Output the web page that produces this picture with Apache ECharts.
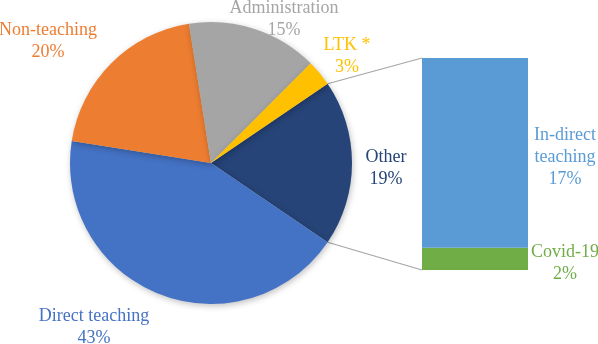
<!DOCTYPE html>
<html>
<head>
<meta charset="utf-8">
<script src="https://cdn.jsdelivr.net/npm/echarts@6/dist/echarts.min.js"></script>
<style>
  html, body { margin: 0; padding: 0; background: #fff; }
  #main { width: 598px; height: 344px; }
</style>
</head>
<body>
<div id="main"></div>
<script>
// pie part (Other first, then clockwise)
const pieNames = ["Other", "Direct teaching", "Non-teaching", "Administration", "LTK *"];
const pieValues = [19, 43, 20, 15, 3];
const pieColors = ["#264478", "#4472C4", "#ED7D31", "#A5A5A5", "#FFC000"];

// bar part (breakdown of Other), bottom to top
const barNames = ["Covid-19", "In-direct teaching"];
const barValues = [2, 17];
const barColors = ["#70AD47", "#5B9BD5"];

// label centres
const pieLabelPos = [[386, 168], [94, 327], [48, 41], [284, 19], [347, 56]];
const barLabelPos = [[565, 263], [565, 157]];

const cx = 211, cy = 163, r = 141;
const barLeft = 422, barWidth = 106;

let chart = echarts.init(document.getElementById("main"));
const total = pieValues.reduce((a, b) => a + b, 0);
const half = (pieValues[0] / total) * 180; // half angle of "Other"

const font = { fontFamily: "Liberation Serif", fontSize: 18, lineHeight: 22, overflow: "none" };

let option = {
  animation: false,
  grid: { left: barLeft, width: barWidth, top: 58, height: 212 },
  xAxis: { type: "category", data: ["Other"], show: false },
  yAxis: { type: "value", min: 0, max: barValues.reduce((a, b) => a + b, 0), show: false },
  series: [
    {
      type: "pie",
      center: [cx, cy],
      radius: r,
      startAngle: half,
      clockwise: true,
      label: Object.assign({ show: true, formatter: "{b}\n{c}%", align: "center" }, font),
      labelLine: { show: false },
      labelLayout: (p) => ({
        x: pieLabelPos[p.dataIndex][0],
        y: pieLabelPos[p.dataIndex][1],
        align: "center",
        verticalAlign: "middle",
      }),
      itemStyle: {
        shadowBlur: 6,
        shadowColor: "rgba(0,0,0,0.25)",
        shadowOffsetX: 1,
        shadowOffsetY: 2,
      },
      emphasis: { disabled: true },
      data: pieNames.map((n, i) => ({
        name: n,
        value: pieValues[i],
        itemStyle: { color: pieColors[i] },
        label: { color: pieColors[i] },
      })),
    },
  ].concat(
    barNames.map((n, i) => ({
      type: "bar",
      name: n,
      stack: "other",
      barWidth: "100%",
      data: [barValues[i]],
      itemStyle: { color: barColors[i] },
      label: Object.assign({
        show: true,
        color: barColors[i],
        align: "center",
        formatter: () => n.replace(" ", "\n") + "\n" + barValues[i] + "%",
      }, font),
      labelLayout: () => ({
        x: barLabelPos[i][0],
        y: barLabelPos[i][1],
        align: "center",
        verticalAlign: "middle",
      }),
      emphasis: { disabled: true },
    }))
  ),
};

chart.setOption(option);

// connector lines from the "Other" slice edges to the bar corners
const a = (half * Math.PI) / 180;
const px = cx + r * Math.cos(a);
const yTop = chart.convertToPixel({ yAxisIndex: 0 }, option.yAxis.max);
const yBot = chart.convertToPixel({ yAxisIndex: 0 }, 0);
chart.setOption({
  graphic: [
    { type: "line", shape: { x1: px, y1: cy - r * Math.sin(a), x2: barLeft, y2: yTop }, style: { stroke: "#A5A5A5", lineWidth: 1.2 } },
    { type: "line", shape: { x1: px, y1: cy + r * Math.sin(a), x2: barLeft, y2: yBot }, style: { stroke: "#A5A5A5", lineWidth: 1.2 } },
  ],
});
</script>
</body>
</html>
